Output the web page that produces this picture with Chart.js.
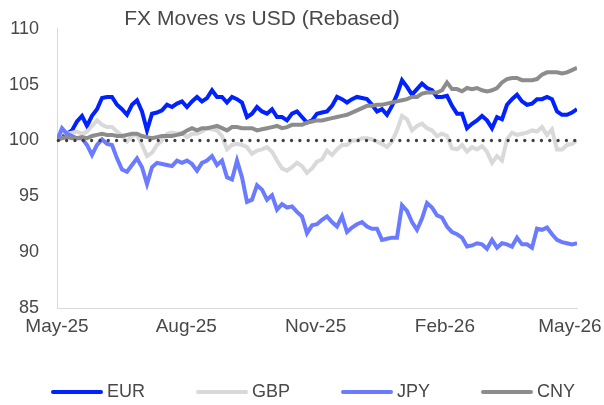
<!DOCTYPE html>
<html><head><meta charset="utf-8">
<script src="https://cdn.jsdelivr.net/npm/chart.js@4.4.1/dist/chart.umd.min.js"></script>
<style>html,body{margin:0;padding:0;background:#fff}canvas{display:block}</style>
</head><body>
<canvas id="c" width="604" height="405"></canvas>
<script>
const chartTitle = 'FX Moves vs USD (Rebased)';
const seriesNames = ['EUR', 'GBP', 'JPY', 'CNY'];
const seriesColors = ['#0022FF', '#D9D9D9', '#6B7BFF', '#8C8C8C'];
const tickLabels = ['May-25', 'Aug-25', 'Nov-25', 'Feb-26', 'May-26'];
const tickDays = [0, 92, 184, 276, 365];
const spanDays = 370;
const refValue = 100;
const yMin = 85, yMax = 110, yStep = 5;

const eur = [100.0,100.6,100.6,100.9,101.7,102.2,101.3,102.2,102.8,103.8,
103.9,103.9,103.2,102.8,102.3,103.2,103.6,102.6,100.9,102.4,
102.5,102.7,103.2,103.0,103.3,103.5,103.0,103.5,103.9,103.5,
103.8,104.5,103.9,103.9,103.4,103.9,103.7,103.4,102.1,102.4,
103.0,102.6,102.4,102.8,102.1,102.1,101.8,102.4,102.6,102.1,
101.6,101.8,102.4,102.5,102.6,103.1,103.9,103.7,103.4,103.7,
103.9,103.8,103.7,103.2,102.6,102.8,102.3,103.1,104.1,105.4,
104.8,104.1,104.6,105.1,104.7,104.5,103.9,103.9,104.0,103.1,
102.4,102.4,101.1,101.5,101.8,102.2,101.8,101.1,102.1,101.9,
103.2,103.7,104.1,103.5,103.2,103.3,103.7,103.7,103.9,103.7,
102.6,102.3,102.3,102.5,102.8];

const gbp = [100.0,100.8,100.6,100.7,100.8,100.6,100.8,101.3,101.8,101.4,
101.2,101.2,100.8,100.4,99.9,100.4,100.5,99.6,98.6,98.9,
99.6,100.0,100.6,100.7,100.6,100.7,100.3,100.6,100.6,100.8,
101.1,101.0,100.9,100.4,99.2,99.6,99.7,99.6,99.4,98.8,
99.1,99.2,99.4,99.0,98.2,97.5,97.3,97.6,98.0,97.7,
97.1,97.5,98.1,98.3,99.1,98.7,99.2,99.6,99.6,100.0,
100.0,100.2,100.2,100.1,99.9,99.7,99.4,99.9,100.9,102.2,
101.9,100.9,101.3,101.5,101.1,100.9,100.4,100.6,100.4,99.3,
99.2,99.6,99.0,99.4,99.2,99.5,99.0,98.0,98.6,98.2,
100.1,100.7,100.5,100.6,100.7,100.9,100.8,101.2,100.5,101.0,
99.2,99.2,99.6,99.7,100.0];

const jpy = [100.0,101.1,100.6,100.4,100.2,100.2,99.6,98.7,99.6,100.1,
99.7,99.6,98.4,97.4,97.2,97.8,98.4,97.6,96.1,97.6,
98.0,97.9,97.8,97.7,98.2,98.0,98.2,97.9,97.3,98.0,
98.2,98.6,97.8,98.2,96.7,96.5,98.2,96.7,94.5,94.7,
96.0,95.6,94.7,95.1,93.8,94.3,94.0,94.1,93.6,93.2,
91.7,92.4,92.5,92.9,93.2,92.7,92.3,93.2,91.8,92.2,
92.5,92.7,92.3,92.1,92.1,91.1,91.2,91.3,91.3,94.2,
93.7,92.7,92.0,93.0,94.4,94.0,93.3,93.1,92.3,91.8,
91.6,91.3,90.5,90.6,90.8,90.7,90.3,91.1,90.4,90.8,
90.7,90.5,91.3,90.7,90.7,90.4,92.1,92.0,92.2,91.6,
91.1,90.9,90.8,90.7,90.8];

const cny = [100.0,100.2,100.3,100.2,100.2,100.3,100.2,100.4,100.5,100.6,
100.5,100.5,100.4,100.4,100.5,100.6,100.6,100.4,100.3,100.2,
100.3,100.4,100.4,100.4,100.5,100.6,100.9,101.1,100.9,101.1,
101.1,101.2,101.3,101.1,100.9,101.2,101.2,101.1,101.1,101.1,
100.9,101.0,101.1,101.2,101.3,101.1,101.2,101.4,101.4,101.4,
101.6,101.7,101.8,101.8,101.9,102.0,102.1,102.2,102.3,102.5,
102.7,102.9,103.1,103.1,103.2,103.2,103.3,103.4,103.5,103.6,
103.7,103.9,103.9,104.2,104.3,104.3,104.3,104.5,105.2,104.6,
104.6,104.4,104.7,104.6,104.7,104.5,104.4,104.5,104.7,105.2,
105.5,105.6,105.6,105.4,105.4,105.4,105.5,105.9,106.1,106.1,
106.1,106.0,106.1,106.3,106.5];

const seriesValues = [eur, gbp, jpy, cny];
// observation dates as day offsets from 1 May 2025
const days = eur.map((_, i) => i * spanDays / (eur.length - 1));

const FONT = "'Liberation Sans', Arial, sans-serif";
const TEXT = '#484848';

const refLine = {
  id: 'refLine',
  afterDatasetsDraw(chart) {
    const {ctx, chartArea: a, scales: {y}} = chart;
    const py = y.getPixelForValue(refValue);
    ctx.save();
    ctx.strokeStyle = '#404040';
    ctx.lineWidth = 3.3;
    ctx.lineCap = 'round';
    ctx.setLineDash([0, 8.33]);
    ctx.beginPath();
    ctx.moveTo(a.left + 1.3, py);
    ctx.lineTo(a.right, py);
    ctx.stroke();
    ctx.restore();
  }
};

const titleLegend = {
  id: 'titleLegend',
  afterDraw(chart) {
    const ctx = chart.ctx;
    ctx.save();
    ctx.fillStyle = TEXT;
    ctx.font = '21px ' + FONT;
    ctx.textAlign = 'center';
    ctx.textBaseline = 'middle';
    ctx.fillText(chartTitle, 262, 19);
    // legend
    ctx.font = '18px ' + FONT;
    ctx.textAlign = 'left';
    let x = 51;
    const ly = 392;
    seriesNames.forEach((name, i) => {
      ctx.strokeStyle = seriesColors[i];
      ctx.lineWidth = 4;
      ctx.lineCap = 'round';
      ctx.beginPath();
      ctx.moveTo(x + 2, ly);
      ctx.lineTo(x + 50, ly);
      ctx.stroke();
      ctx.fillStyle = TEXT;
      ctx.fillText(name, x + 56, ly);
      x += 56 + ctx.measureText(name).width + 51;
    });
    ctx.restore();
  }
};

new Chart(document.getElementById('c'), {
  type: 'line',
  data: {
    datasets: seriesNames.map((name, s) => ({
      label: name,
      data: days.map((d, i) => ({x: d, y: seriesValues[s][i]})),
      borderColor: seriesColors[s],
      backgroundColor: seriesColors[s],
      borderWidth: 4,
      pointRadius: 0,
      tension: 0,
      fill: false,
      order: seriesNames.length - s
    }))
  },
  options: {
    responsive: false,
    animation: false,
    devicePixelRatio: 1,
    layout: {padding: {top: 23, right: 27, left: 0, bottom: 0}},
    plugins: {legend: {display: false}, title: {display: false}, tooltip: {enabled: false}},
    scales: {
      x: {
        type: 'linear', min: 0, max: spanDays,
        grid: {display: false, drawTicks: false},
        border: {color: '#D9D9D9', width: 1},
        afterBuildTicks: s => { s.ticks = tickDays.map(v => ({value: v})); },
        ticks: {autoSkip: false, maxRotation: 0, padding: 7, color: TEXT,
          font: {family: FONT, size: 19},
          callback: (v, i) => tickLabels[i]},
        afterFit: s => { s.height = 97; s.paddingLeft = 0; s.paddingRight = 0; }
      },
      y: {
        min: yMin, max: yMax,
        grid: {display: false, drawTicks: false},
        border: {color: '#D9D9D9', width: 1},
        ticks: {stepSize: yStep, padding: 18, color: TEXT, font: {family: FONT, size: 18}},
        afterFit: s => { s.width = 57; }
      }
    }
  },
  plugins: [refLine, titleLegend]
});
</script>
</body></html>
